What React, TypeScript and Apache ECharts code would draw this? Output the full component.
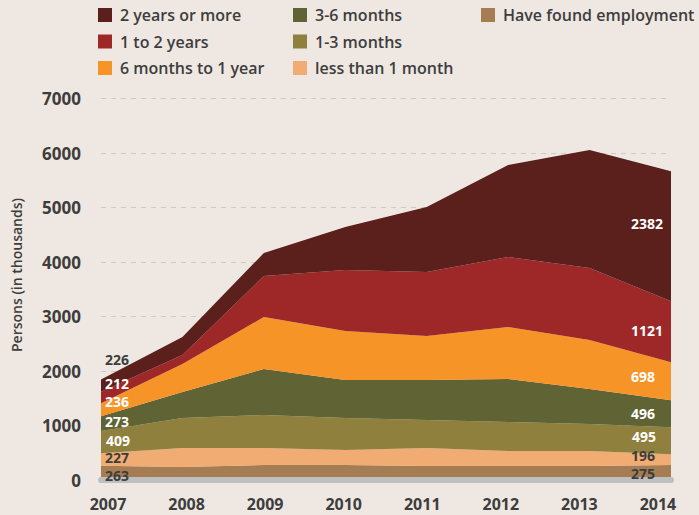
import React, { useEffect, useRef } from "react";
import * as echarts from "echarts";

// ---- data (persons, in thousands) ----
const years = [2007, 2008, 2009, 2010, 2011, 2012, 2013, 2014];
const haveFoundEmployment = [263, 239, 275, 275, 257, 257, 257, 275];
const lessThan1Month = [227, 348, 312, 276, 330, 275, 275, 196];
const months1to3 = [409, 551, 606, 587, 514, 532, 496, 495];
const months3to6 = [273, 477, 844, 697, 734, 789, 642, 496];
const months6to12 = [236, 514, 954, 899, 807, 955, 899, 698];
const years1to2 = [212, 165, 752, 1120, 1175, 1284, 1321, 1121];
const years2plus = [226, 330, 422, 789, 1193, 1688, 2166, 2382];
const yTickValues = [0, 1000, 2000, 3000, 4000, 5000, 6000, 7000];

const TEXT = "#3d3d3d";
const FONT = "'Open Sans', 'Noto Sans', sans-serif";

type Layer = {
  name: string;
  values: number[];
  color: string;
  left: { dx: number; dy: number; color: string };
  right: { dx: number; dy: number; color: string };
};

// bottom of the stack first
const layers: Layer[] = [
  { name: "Have found employment", values: haveFoundEmployment, color: "#a67c52",
    left: { dx: 4, dy: 9.5, color: TEXT }, right: { dx: -40, dy: 8, color: TEXT } },
  { name: "less than 1 month", values: lessThan1Month, color: "#f0ac72",
    left: { dx: 4, dy: 4, color: TEXT }, right: { dx: -40, dy: 1, color: TEXT } },
  { name: "1-3 months", values: months1to3, color: "#8f803e",
    left: { dx: 5, dy: 9, color: "#ffffff" }, right: { dx: -39, dy: 9.5, color: "#ffffff" } },
  { name: "3-6 months", values: months3to6, color: "#606334",
    left: { dx: 4, dy: 5, color: "#ffffff" }, right: { dx: -40, dy: 13, color: "#ffffff" } },
  { name: "6 months to 1 year", values: months6to12, color: "#f79428",
    left: { dx: 4, dy: -1.5, color: "#ffffff" }, right: { dx: -40, dy: 14, color: "#ffffff" } },
  { name: "1 to 2 years", values: years1to2, color: "#9e2828",
    left: { dx: 4, dy: -8, color: "#ffffff" }, right: { dx: -40, dy: 29, color: "#ffffff" } },
  { name: "2 years or more", values: years2plus, color: "#5b1f1c",
    left: { dx: 4, dy: -20, color: TEXT }, right: { dx: -40, dy: 52, color: "#ffffff" } },
];

const legendText = {
  color: TEXT,
  fontSize: 16,
  fontWeight: 600,
  fontFamily: FONT,
  lineHeight: 16,
  padding: [8, 0, 0, 3],
};

function makeLegend(data: string[], left: number) {
  return {
    data,
    orient: "vertical",
    left,
    top: 3,
    padding: 0,
    itemWidth: 14,
    itemHeight: 14,
    itemGap: 2.5,
    icon: "rect",
    selectedMode: false,
    textStyle: legendText,
  };
}

export default function App() {
  const ref = useRef<HTMLDivElement>(null);

  useEffect(() => {
    if (!ref.current) return;
    const chart = echarts.init(ref.current, undefined, { renderer: "svg" });
    const last = years.length - 1;

    // filled stacked areas
    const areaSeries = layers.map((l) => ({
      name: l.name,
      type: "line",
      stack: "total",
      z: 2,
      symbol: "none",
      silent: true,
      emphasis: { disabled: true },
      itemStyle: { color: l.color },
      lineStyle: { width: 0, color: l.color },
      areaStyle: { color: l.color, opacity: 1 },
      data: l.values,
    }));

    // same stack, no fill: carries the value labels above the base strip
    const labelSeries = layers.map((l) => ({
      name: "label: " + l.name,
      type: "line",
      stack: "labels",
      z: 10,
      symbol: "circle",
      symbolSize: 1,
      showSymbol: true,
      showAllSymbol: true,
      silent: true,
      emphasis: { disabled: true },
      itemStyle: { color: "rgba(0,0,0,0)" },
      lineStyle: { width: 0, opacity: 0 },
      data: l.values.map((v, i) => {
        const item: any = { value: v };
        if (i === 0 || i === last) {
          const s = i === 0 ? l.left : l.right;
          item.label = {
            show: true,
            position: "inside",
            align: "left",
            verticalAlign: "middle",
            offset: [s.dx, s.dy],
            color: s.color,
            fontSize: 14,
            lineHeight: 13,
            fontWeight: "bold",
            fontFamily: FONT,
            formatter: (p: any) => String(p.value),
          };
        } else {
          item.label = { show: false };
        }
        return item;
      }),
    }));

    chart.setOption({
      animation: false,
      backgroundColor: "#efe8e2",
      textStyle: { fontFamily: FONT },
      grid: { left: 101, right: 28, top: 98.5, bottom: 35 },
      legend: [
        makeLegend(["2 years or more", "1 to 2 years", "6 months to 1 year"], 98),
        makeLegend(["3-6 months", "1-3 months", "less than 1 month"], 293),
        makeLegend(["Have found employment"], 481),
      ],
      xAxis: [
        {
          type: "category",
          boundaryGap: false,
          data: years.map(String),
          z: 5,
          axisLine: { show: true, onZero: true, lineStyle: { color: "#bdbfc1", width: 6 } },
          axisTick: { show: false },
          axisLabel: { show: false },
          splitLine: { show: false },
        },
        {
          type: "value",
          position: "bottom",
          min: 2006.911,
          max: 2014.166,
          axisLine: { show: false },
          axisTick: { show: false },
          splitLine: { show: false },
          axisLabel: {
            customValues: years,
            formatter: (v: number) => String(v),
            color: TEXT,
            fontSize: 16,
            lineHeight: 15,
            fontWeight: "bold",
            fontFamily: FONT,
            margin: 16.5,
          },
        },
      ],
      yAxis: {
        type: "value",
        min: yTickValues[0],
        max: yTickValues[yTickValues.length - 1],
        interval: 1000,
        axisLine: { show: false },
        axisTick: { show: false },
        axisLabel: {
          formatter: (v: number) => String(v),
          color: TEXT,
          fontSize: 17,
          fontWeight: "bold",
          fontFamily: FONT,
          margin: 20,
        },
        splitLine: { show: true, lineStyle: { color: "#cfc9c4", type: [5, 5], width: 1 } },
      },
      graphic: [
        {
          type: "text",
          x: 16,
          y: 275,
          rotation: Math.PI / 2,
          silent: true,
          style: {
            text: "Persons (in thousands)",
            fill: TEXT,
            fontSize: 14,
            fontWeight: 600,
            fontFamily: FONT,
            align: "center",
            verticalAlign: "middle",
          },
        },
      ],
      series: [...areaSeries, ...labelSeries],
    });

    return () => chart.dispose();
  }, []);

  return (
    <div
      ref={ref}
      style={{ position: "fixed", left: 0, top: 0, width: 699, height: 515, background: "#efe8e2" }}
    />
  );
}
